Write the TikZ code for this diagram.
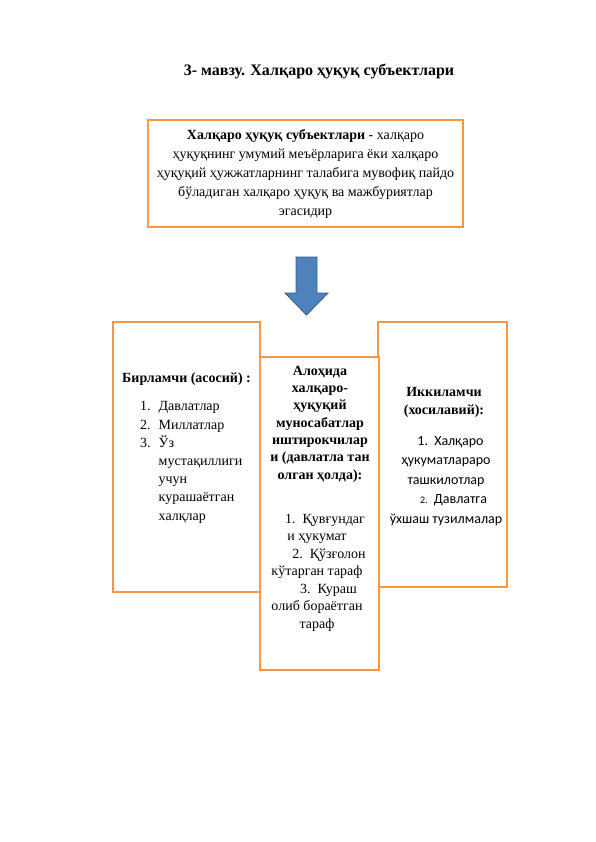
\documentclass[tikz,border=0pt]{standalone}
\usepackage{fontspec}
\setmainfont{Liberation Serif}
\newfontfamily\calibri{Carlito}
\definecolor{boxorange}{HTML}{F79646}
\definecolor{arrowblue}{HTML}{4F81BD}
\definecolor{arrowedge}{HTML}{385D8A}
\begin{document}
\begin{tikzpicture}[x=1pt,y=-1pt,
  panel/.style={draw=boxorange, line width=1.8pt, fill=white, inner sep=0pt, outer sep=0pt, anchor=north west},
  txt/.style={inner sep=0pt, anchor=center, align=center}]
\useasboundingbox (0,0) rectangle (596,842);
\fill[white] (0,0) rectangle (596,842);
% title
\node[txt, font=\fontsize{16}{19}\selectfont\bfseries] (title) at (319,72) {3- мавзу. Халқаро ҳуқуқ субъектлари};
% top box
\node[panel, minimum width=315pt, minimum height=107pt] (topbox) at (148,120) {};
\node[txt, font=\fontsize{14}{19.2}\selectfont] (toptext) at (305.5,174)
 {\textbf{Халқаро ҳуқуқ субъектлари} - халқаро\\
  ҳуқуқнинг умумий меъёрларига ёки халқаро\\
  ҳуқуқий ҳужжатларнинг талабига мувофиқ пайдо\\
  бўладиган халқаро ҳуқуқ ва мажбуриятлар\\
  эгасидир};
% arrow
\draw[fill=arrowblue, draw=arrowedge, line width=0.9pt, line join=miter]
 (296,257) -- (317,257) -- (317,293) -- (328,293) -- (306.5,315) -- (285,293) -- (296,293) -- cycle;
% side boxes
\node[panel, minimum width=147pt, minimum height=270pt] (leftbox) at (113,322) {};
\node[panel, minimum width=129pt, minimum height=265pt] (rightbox) at (378,322) {};
\node[panel, minimum width=119pt, minimum height=313pt] (midbox) at (260,357) {};
% left text
\node[inner sep=0pt, anchor=west, font=\fontsize{14}{17}\selectfont\bfseries] (lefthead) at (122,379) {Бирламчи (асосий) :};
\node[inner sep=0pt, anchor=north west, font=\fontsize{14}{18.2}\selectfont] (leftlist) at (140,398)
 {\begin{tabular}{@{}r@{\hspace{8pt}}l@{}}
 1. & Давлатлар\\
 2. & Миллатлар\\
 3. & Ўз\\
    & мустақиллиги\\
    & учун\\
    & курашаётган\\
    & халқлар
 \end{tabular}};
% middle text
\node[txt, font=\fontsize{14}{17.3}\selectfont\bfseries] (midhead) at (320,424)
 {Алоҳида\\ халқаро-\\ ҳуқуқий\\ муносабатлар\\ иштирокчилар\\ и (давлатла тан\\ олган ҳолда):};
\node[txt, font=\fontsize{14}{17.5}\selectfont] (midlist) at (317,572.5)
 {\hspace*{16pt}1.\ \ Қувғундаг\\
  и ҳукумат\\
  \hspace*{24pt}2.\ \ Қўзғолон\\
  кўтарган тараф\\
  \hspace*{23pt}3.\ \ Кураш\\
  олиб бораётган\\
  тараф};
% right text
\node[txt, font=\fontsize{14}{18}\selectfont\bfseries] (righthead) at (444,402)
 {Иккиламчи\\ (хосилавий):};
\node[txt, font=\calibri\fontsize{14}{19.5}\selectfont] (rightlist) at (446,481)
 {\hspace*{9pt}1.\ \ Халқаро\\
  ҳукуматлараро\\
  ташкилотлар\\
  \hspace*{15pt}{\fontsize{10}{10}\selectfont 2.}\ \ Давлатга\\
  ўхшаш тузилмалар};
\end{tikzpicture}
\end{document}
